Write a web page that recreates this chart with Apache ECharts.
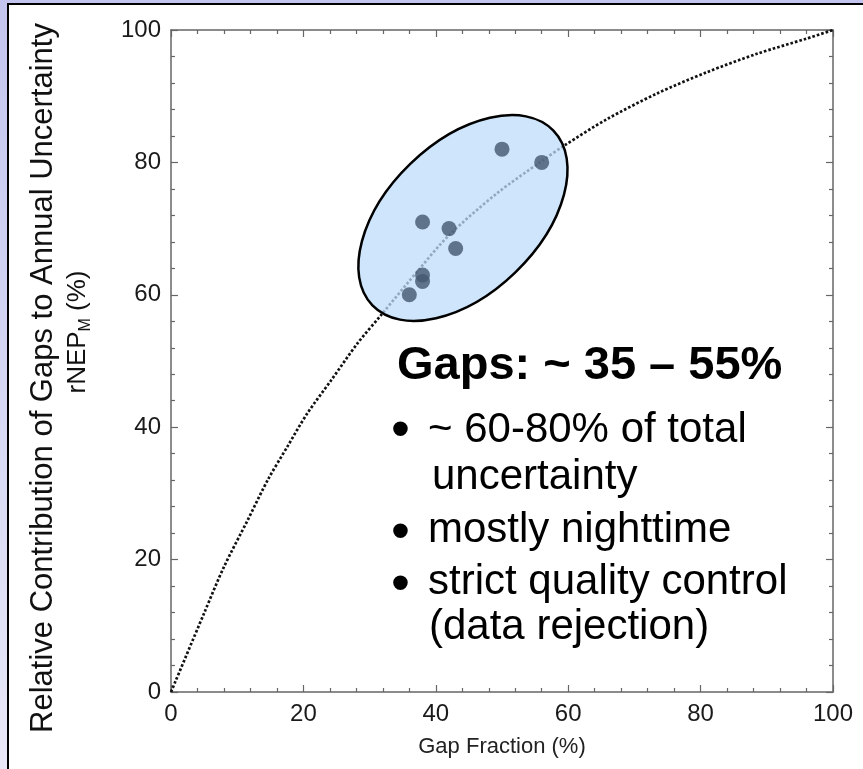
<!DOCTYPE html>
<html>
<head>
<meta charset="utf-8">
<script src="https://cdn.jsdelivr.net/npm/echarts@6/dist/echarts.min.js"></script>
<style>
  html, body { margin: 0; padding: 0; }
  #main { width: 863px; height: 769px; }
</style>
</head>
<body>
<div id="main"></div>
<script>
// measured gap fraction / contribution (%)
var gapFraction = [36, 38, 38, 38, 42, 43, 50, 56];
var gapContribution = [60, 62, 63, 71, 70, 67, 82, 80];

// dotted reference curve
var curveX = [0, 5, 8, 11.6, 14.6, 17.6, 20.6, 24.2, 28.2, 31.7, 37.6, 42, 49.2, 56, 59.5, 65.8, 73.4, 80.9, 88.5, 96, 100];
var curveY = [0, 11.9, 18.9, 26, 32, 37.1, 42.1, 47.1, 52.7, 56.9, 64, 69, 75.3, 80.2, 82.6, 86.5, 90.4, 93.6, 96.4, 98.7, 100];

var axisTicks = [0, 20, 40, 60, 80, 100];

// highlight ellipse (data units, degrees)
var ellipseCenter = [44.1, 71.6];
var ellipseAxes = [19.0, 11.4];
var ellipseTilt = 44;

var font = 'Liberation Sans, Arial, sans-serif';

var myChart = echarts.init(document.getElementById('main'));

function pairs(xs, ys) {
    var out = [];
    for (var i = 0; i < xs.length; i++) {
        out.push([xs[i], ys[i]]);
    }
    return out;
}

function mkAxis(pos, showLabel) {
    return {
        type: 'value',
        position: pos,
        min: axisTicks[0],
        max: axisTicks[axisTicks.length - 1],
        interval: 20,
        axisLine: { show: true, onZero: false, lineStyle: { color: '#666', width: 1.5 } },
        axisTick: { show: true, inside: true, length: 7, lineStyle: { color: '#666', width: 1.2 } },
        minorTick: { show: true, splitNumber: 5, length: 4, lineStyle: { color: '#666', width: 1.2 } },
        splitLine: { show: false },
        axisLabel: {
            show: showLabel,
            margin: 10,
            fontSize: 24,
            fontFamily: font,
            color: '#1a1a1a'
        }
    };
}

var xBottom = mkAxis('bottom', true);
xBottom.name = 'Gap Fraction (%)';
xBottom.nameLocation = 'middle';
xBottom.nameGap = 44;
xBottom.nameTextStyle = { fontSize: 22, fontFamily: font, color: '#222' };

var bulletStyle = { text: '\u2022', fontSize: 54, fontFamily: font, fill: '#000', verticalAlign: 'middle' };
var lineStyle = { fontSize: 42, fontFamily: font, fill: '#000', verticalAlign: 'middle' };

function textEl(id, x, y, txt) {
    return { id: id, type: 'text', x: x, y: y, style: Object.assign({ text: txt }, lineStyle) };
}

var option = {
    animation: false,
    backgroundColor: new echarts.graphic.LinearGradient(0, 0, 0, 1, [
        { offset: 0, color: '#c3c5ee' },
        { offset: 1, color: '#e8e8f8' }
    ]),
    grid: { left: 171, right: 30, top: 30, bottom: 77 },
    xAxis: [xBottom, mkAxis('top', false)],
    yAxis: [mkAxis('left', true), mkAxis('right', false)],
    series: [
        {
            type: 'line',
            data: pairs(curveX, curveY),
            smooth: 0.3,
            showSymbol: false,
            z: 1,
            lineStyle: { color: '#111', width: 2.7, type: [2.6, 2] }
        },
        {
            type: 'scatter',
            data: pairs(gapFraction, gapContribution),
            symbolSize: 15,
            z: 5,
            itemStyle: { color: '#44576e' }
        }
    ],
    graphic: [
        {
            id: 'frame',
            type: 'rect',
            z: -10,
            shape: { x: 8, y: 4, width: 900, height: 900 },
            style: { fill: '#fff', stroke: '#000', lineWidth: 2 }
        },
        {
            id: 'ytitle',
            type: 'text',
            x: 43, y: 378,
            rotation: Math.PI / 2,
            style: {
                text: 'Relative Contribution of Gaps to Annual Uncertainty',
                fontSize: 31, fontFamily: font, fill: '#111',
                align: 'center', verticalAlign: 'middle'
            }
        },
        {
            id: 'yunit',
            type: 'group',
            x: 78, y: 332,
            rotation: Math.PI / 2,
            children: [
                { type: 'text', x: -61.5, y: 0, style: { text: 'rNEP', fontSize: 26, fontFamily: font, fill: '#111', align: 'left', verticalAlign: 'middle' } },
                { type: 'text', x: 0.5, y: 8, style: { text: 'M', fontSize: 16, fontFamily: font, fill: '#111', align: 'left', verticalAlign: 'middle' } },
                { type: 'text', x: 21, y: 0, style: { text: '(%)', fontSize: 26, fontFamily: font, fill: '#111', align: 'left', verticalAlign: 'middle' } }
            ]
        },
        {
            id: 'headline',
            type: 'text',
            x: 397, y: 366,
            style: { text: 'Gaps: ~ 35 \u2013 55%', fontSize: 47, fontWeight: 'bold', fontFamily: font, fill: '#000', verticalAlign: 'middle' }
        },
        { id: 'b1', type: 'text', x: 391, y: 432, style: bulletStyle },
        textEl('t1', 428, 430, '~ 60-80% of total'),
        textEl('t2', 432, 477, 'uncertainty'),
        { id: 'b3', type: 'text', x: 391, y: 534, style: bulletStyle },
        textEl('t3', 428, 530, 'mostly nighttime'),
        { id: 'b4', type: 'text', x: 391, y: 586, style: bulletStyle },
        textEl('t4', 428, 582, 'strict quality control'),
        textEl('t5', 429, 627, '(data rejection)')
    ]
};

myChart.setOption(option);

// ellipse placed through the axes
var c = myChart.convertToPixel({ gridIndex: 0 }, ellipseCenter);
var o = myChart.convertToPixel({ gridIndex: 0 }, [0, 0]);
var u = myChart.convertToPixel({ gridIndex: 0 }, [10, 0]);
var pxPerUnit = (u[0] - o[0]) / 10;

myChart.setOption({
    graphic: [{
        id: 'ellipse',
        type: 'ellipse',
        x: c[0], y: c[1],
        rotation: ellipseTilt * Math.PI / 180,
        z: 3,
        shape: { cx: 0, cy: 0, rx: ellipseAxes[0] * pxPerUnit, ry: ellipseAxes[1] * pxPerUnit },
        style: { fill: 'rgba(190,220,250,0.75)', stroke: '#000', lineWidth: 2.5 }
    }]
});
</script>
</body>
</html>
